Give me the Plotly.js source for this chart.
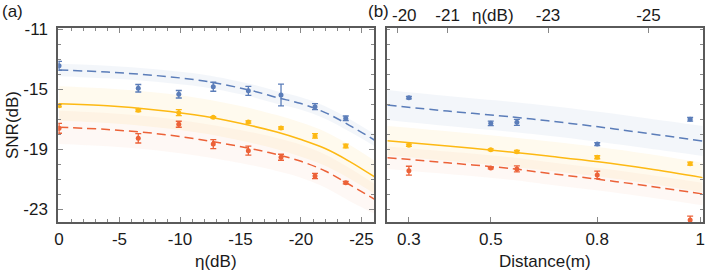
<!DOCTYPE html>
<html>
<head>
<meta charset="utf-8">
<script src="https://cdn.plot.ly/plotly-3.0.1.min.js"></script>
<style>html,body{margin:0;padding:0;background:#fff}#chart{width:705px;height:272px}</style>
</head>
<body>
<div id="chart"></div>
<script>
// ---------- Panel (a): SNR vs eta ----------
const etaA = [0, -6.55, -9.9, -12.75, -15.65, -18.35, -21.16, -23.7];
const blueA = [-13.43, -14.93, -15.33, -14.83, -15.1, -15.38, -16.16, -16.93];
const blueAerr = [0.3, 0.25, 0.25, 0.3, 0.3, 0.73, 0.2, 0.15];
const yellowA = [-16.09, -16.4, -16.56, -16.87, -17.18, -17.58, -18.11, -18.78];
const yellowAerr = [0.08, 0.08, 0.2, 0.05, 0.08, 0.08, 0.15, 0.12];
const redA = [-17.6, -18.27, -17.33, -18.65, -19.09, -19.53, -20.78, -21.23];
const redAerr = [0.33, 0.31, 0.2, 0.3, 0.3, 0.2, 0.18, 0.08];

const etaFitA = [0, -4, -8, -12, -16, -18, -20, -22, -24, -26.06];
const blueFitA = [-13.71, -13.85, -14.08, -14.45, -15.1, -15.55, -15.95, -16.55, -17.4, -18.38];
const blueBandAup = [-13.3, -13.43, -13.66, -14.03, -14.68, -15.13, -15.53, -16.13, -16.98, -17.98];
const blueBandAlo = [-14.12, -14.27, -14.5, -14.87, -15.52, -15.97, -16.37, -16.97, -17.82, -18.78];
const yellowFitA = [-15.96, -16.1, -16.38, -16.8, -17.45, -17.85, -18.35, -18.95, -19.8, -20.83];
const yellowBandAup = [-14.8, -14.95, -15.22, -15.65, -16.3, -16.72, -17.22, -17.83, -18.7, -19.75];
const yellowBandAlo = [-17.1, -17.25, -17.53, -17.95, -18.6, -19.0, -19.5, -20.1, -20.95, -21.95];
const redFitA = [-17.53, -17.68, -17.95, -18.4, -18.98, -19.35, -19.8, -20.45, -21.35, -22.33];
const redBandAup = [-16.43, -16.58, -16.85, -17.3, -17.88, -18.25, -18.7, -19.35, -20.25, -21.3];
const redBandAlo = [-18.65, -18.8, -19.07, -19.5, -20.08, -20.45, -20.9, -21.55, -22.45, -23.3];

// ---------- Panel (b): SNR vs distance (top axis eta) ----------
const distB = [0.3, 0.5, 0.57, 0.8, 0.97];
const distEtaB = [-20.23, -21.86, -22.38, -23.98, -25.83]; // eta equivalent of each distance
const blueB = [-15.56, -17.27, -17.2, -18.65, -17.0];
const blueBerr = [0.08, 0.15, 0.2, 0.1, 0.12];
const yellowB = [-18.73, -19.03, -19.16, -19.53, -19.96];
const yellowBerr = [0.07, 0.06, 0.08, 0.1, 0.1];
const redB = [-20.43, -20.25, -20.31, -20.71, -23.71];
const redBerr = [0.3, 0.05, 0.2, 0.25, 0.25];

const etaFitB = [-19.8, -21, -22.3, -23, -24, -25, -26.08];
const blueFitB = [-16.05, -16.45, -16.85, -17.1, -17.5, -17.95, -18.45];
const blueBandBup = [-15.05, -15.45, -15.85, -16.1, -16.5, -16.95, -17.45];
const blueBandBlo = [-17.05, -17.45, -17.85, -18.1, -18.5, -18.95, -19.45];
const yellowFitB = [-18.43, -18.78, -19.2, -19.45, -19.83, -20.3, -20.89];
const yellowBandBup = [-17.45, -17.8, -18.22, -18.47, -18.85, -19.32, -19.91];
const yellowBandBlo = [-19.41, -19.76, -20.18, -20.43, -20.81, -21.28, -21.87];
const redFitB = [-19.56, -19.9, -20.3, -20.6, -21.0, -21.45, -21.98];
const redBandBup = [-18.81, -19.15, -19.55, -19.85, -20.25, -20.7, -21.23];
const redBandBlo = [-20.31, -20.65, -21.05, -21.35, -21.75, -22.2, -22.73];

// ---------- tick labels ----------
const xTickValsA = [0, -5, -10, -15, -20, -25];
const xTickTextA = ['0', '-5', '-10', '-15', '-20', '-25'];
const yTickVals = [-11, -15, -19, -23];
const yTickText = ['-11', '-15', '-19', '-23'];
const distTickVals = [0.3, 0.5, 0.8, 1];
const distTickEta = [-20.23, -21.86, -23.98, -26.03];
const topTickVals = [-20, -21, -23, -25];
const topTickText = ['-20', '-21', '-23', '-25'];

// ---------- styles ----------
const BLUE = '#5B7DB9', YEL = '#FDB913', RED = '#EC6238';
const fillBlue = 'rgba(91,125,185,0.07)', fillYel = 'rgba(253,185,19,0.07)', fillRed = 'rgba(240,130,70,0.055)';
const W = 705, H = 272;
const px = v => v / W, py = v => 1 - v / H;

function band(x, lo, up, color, xa, ya) {
  return [
    {x: x, y: lo, xaxis: xa, yaxis: ya, mode: 'lines', line: {width: 0, shape: 'spline'}, hoverinfo: 'skip', showlegend: false},
    {x: x, y: up, xaxis: xa, yaxis: ya, mode: 'lines', line: {width: 0, shape: 'spline'}, fill: 'tonexty', fillcolor: color, hoverinfo: 'skip', showlegend: false}
  ];
}
function fit(x, y, color, dash, xa, ya) {
  return {x: x, y: y, xaxis: xa, yaxis: ya, mode: 'lines', line: {color: color, width: 1.5, dash: dash, shape: 'spline'}, showlegend: false};
}
function pts(x, y, e, color, xa, ya) {
  return {x: x, y: y, xaxis: xa, yaxis: ya, mode: 'markers', marker: {color: color, size: 5},
    error_y: {type: 'data', array: e, visible: true, color: color, thickness: 1.3, width: 3}, showlegend: false};
}

const traces = [].concat(
  band(etaFitA, blueBandAlo, blueBandAup, fillBlue, 'x', 'y'),
  band(etaFitA, yellowBandAlo, yellowBandAup, fillYel, 'x', 'y'),
  band(etaFitA, redBandAlo, redBandAup, fillRed, 'x', 'y'),
  [fit(etaFitA, blueFitA, BLUE, '9px,5px', 'x', 'y'),
   fit(etaFitA, yellowFitA, YEL, 'solid', 'x', 'y'),
   fit(etaFitA, redFitA, RED, '9px,5px', 'x', 'y'),
   pts(etaA, blueA, blueAerr, BLUE, 'x', 'y'),
   pts(etaA, yellowA, yellowAerr, YEL, 'x', 'y'),
   pts(etaA, redA, redAerr, RED, 'x', 'y')],
  band(etaFitB, blueBandBlo, blueBandBup, fillBlue, 'x2', 'y2'),
  band(etaFitB, yellowBandBlo, yellowBandBup, fillYel, 'x2', 'y2'),
  band(etaFitB, redBandBlo, redBandBup, fillRed, 'x2', 'y2'),
  [fit(etaFitB, blueFitB, BLUE, '9px,5px', 'x2', 'y2'),
   fit(etaFitB, yellowFitB, YEL, 'solid', 'x2', 'y2'),
   fit(etaFitB, redFitB, RED, '9px,5px', 'x2', 'y2'),
   pts(distEtaB, blueB, blueBerr, BLUE, 'x2', 'y2'),
   pts(distEtaB, yellowB, yellowBerr, YEL, 'x2', 'y2'),
   pts(distEtaB, redB, redBerr, RED, 'x2', 'y2'),
   {x: [-20], y: [-11], xaxis: 'x3', yaxis: 'y2', mode: 'markers', marker: {opacity: 0}, showlegend: false, hoverinfo: 'skip'}]
);

const LC = '#5a5a5a', TC = '#888';
const yRange = [-23.87, -10.89];
const yDom = [1 - 222.3 / H, 1 - 27.7 / H];

// first top label is nudged right in the reference to clear "(b)"
const topTickShown = topTickText.map((t, i) => i === 0 ? '' : t);

const layout = {
  width: W, height: H,
  margin: {l: 0, r: 0, t: 0, b: 0},
  paper_bgcolor: '#fff', plot_bgcolor: '#fff',
  font: {family: 'Liberation Sans, Arial, sans-serif', size: 17, color: '#1a1a1a'},
  showlegend: false,
  xaxis: {
    domain: [px(58.3), px(374.3)], range: [0.06, -26.06], anchor: 'y',
    showline: true, linecolor: LC, linewidth: 2, mirror: 'ticks', showgrid: false, zeroline: false,
    ticks: 'inside', ticklen: 5, tickcolor: TC, tickwidth: 1,
    tickvals: xTickValsA, ticktext: xTickTextA, ticklabelstandoff: 0,
    minor: {ticks: 'inside', ticklen: 3, dtick: 1, tick0: 0, tickcolor: TC, tickwidth: 1, showgrid: false}
  },
  yaxis: {
    domain: yDom, range: yRange, anchor: 'x',
    showline: true, linecolor: LC, linewidth: 2, mirror: 'ticks', showgrid: false, zeroline: false,
    ticks: 'inside', ticklen: 5, tickcolor: TC, tickwidth: 1,
    tickvals: yTickVals, ticktext: yTickText, ticklabelstandoff: 5,
    minor: {ticks: 'inside', ticklen: 3, dtick: 1, tick0: -11, tickcolor: TC, tickwidth: 1, showgrid: false}
  },
  xaxis2: {
    domain: [px(387.3), px(702.7)], range: [-19.8, -26.08], anchor: 'y2',
    showline: true, linecolor: LC, linewidth: 2, mirror: true, showgrid: false, zeroline: false,
    ticks: 'inside', ticklen: 5, tickcolor: TC, tickwidth: 1,
    tickvals: distTickEta, ticktext: distTickVals.map(String), ticklabelstandoff: 0
  },
  xaxis3: {
    overlaying: 'x2', side: 'top', anchor: 'y2', range: [-19.8, -26.08],
    showline: false, showgrid: false, zeroline: false,
    ticks: 'inside', ticklen: 5, tickcolor: TC, tickwidth: 1,
    tickvals: topTickVals, ticktext: topTickShown, ticklabelstandoff: 2
  },
  yaxis2: {
    domain: yDom, range: yRange, anchor: 'x2',
    showline: true, linecolor: LC, linewidth: 2, mirror: 'ticks', showgrid: false, zeroline: false,
    ticks: 'inside', ticklen: 3, tickcolor: TC, tickwidth: 1, dtick: 1, tick0: -11, showticklabels: false
  },
  annotations: [
    {text: '(a)', x: px(12), y: py(12), xref: 'paper', yref: 'paper', showarrow: false, xanchor: 'center', yanchor: 'middle'},
    {text: '(b)', x: px(378), y: py(12), xref: 'paper', yref: 'paper', showarrow: false, xanchor: 'center', yanchor: 'middle'},
    {text: topTickText[0], x: px(404.5), y: py(15), xref: 'paper', yref: 'paper', showarrow: false, xanchor: 'center', yanchor: 'middle'},
    {text: 'η(dB)', x: px(493), y: py(15), xref: 'paper', yref: 'paper', showarrow: false, xanchor: 'center', yanchor: 'middle'},
    {text: 'SNR(dB)', x: px(13), y: py(125), xref: 'paper', yref: 'paper', showarrow: false, textangle: -90, xanchor: 'center', yanchor: 'middle'},
    {text: 'η(dB)', x: px(216), y: py(261), xref: 'paper', yref: 'paper', showarrow: false, xanchor: 'center', yanchor: 'middle'},
    {text: 'Distance(m)', x: px(545), y: py(261), xref: 'paper', yref: 'paper', showarrow: false, xanchor: 'center', yanchor: 'middle'}
  ]
};

Plotly.newPlot('chart', traces, layout, {displayModeBar: false, staticPlot: true});
</script>
</body>
</html>
